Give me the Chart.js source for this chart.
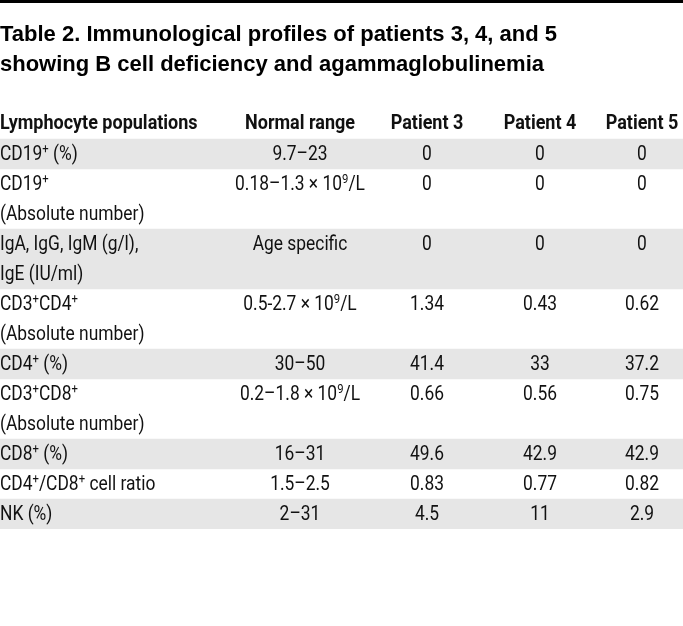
<!DOCTYPE html>
<html>
<head>
<meta charset="utf-8">
<script src="https://cdn.jsdelivr.net/npm/chart.js@4.4.1/dist/chart.umd.min.js"></script>
<style>
  html, body { margin: 0; padding: 0; background: #fff; }
  .wrap { position: relative; width: 683px; height: 626px; }
  .rule { position: absolute; left: 0; top: 0; width: 683px; height: 3px; background: #000; }
  canvas { display: block; }
</style>
</head>
<body>
<div class="wrap">
  <canvas id="table" width="683" height="626"></canvas>
  <div class="rule"></div>
</div>
<script>
// Данные таблицы
const titleLines = [
  'Table 2. Immunological profiles of patients 3, 4, and 5',
  'showing B cell deficiency and agammaglobulinemia'
];
const columnHeaders = ['Lymphocyte populations', 'Normal range', 'Patient 3', 'Patient 4', 'Patient 5'];
// ^ — следующий символ в верхнем индексе
const rowLabels = [
  ['CD19^+ (%)'],
  ['CD19^+', '(Absolute number)'],
  ['IgA, IgG, IgM (g/l),', 'IgE (IU/ml)'],
  ['CD3^+CD4^+', '(Absolute number)'],
  ['CD4^+ (%)'],
  ['CD3^+CD8^+', '(Absolute number)'],
  ['CD8^+ (%)'],
  ['CD4^+/CD8^+ cell ratio'],
  ['NK (%)']
];
const normalRange = ['9.7–23', '0.18–1.3 × 10^9/L', 'Age specific', '0.5-2.7 × 10^9/L', '30–50', '0.2–1.8 × 10^9/L', '16–31', '1.5–2.5', '2–31'];
const patient3 = [0, 0, 0, 1.34, 41.4, 0.66, 49.6, 0.83, 4.5];
const patient4 = [0, 0, 0, 0.43, 33, 0.56, 42.9, 0.77, 11];
const patient5 = [0, 0, 0, 0.62, 37.2, 0.75, 42.9, 0.82, 2.9];

// Раскладка
const TABLE_WIDTH = 683;
const COLUMN_X = [0, 300, 427, 540, 642];
const COLUMN_ALIGN = ['left', 'center', 'center', 'center', 'center'];
const BAND_COLOR = '#e6e6e6';
const TEXT_COLOR = '#111';
// шрифт в таблице узкий — сжимаем Roboto по горизонтали
const BODY = { font: '20px Roboto, sans-serif', sx: 0.87 };
const HEAD = { font: 'bold 20px Roboto, sans-serif', sx: 0.9 };
const SUP_FONT = '13px Roboto, sans-serif';

// Строки таблицы -> слоты категориальной оси (одна строка текста = один слот)
const slots = [{ header: true }];
rowLabels.forEach((lines, r) => {
  lines.forEach((_, l) => slots.push({ row: r, line: l }));
});
const slotNames = slots.map((s, i) => 'slot' + i);
const bandData = slots.map(s => (!s.header && s.row % 2 === 0) ? TABLE_WIDTH : null);

function cellText(row, col, line) {
  if (col === 0) return rowLabels[row][line];
  if (line > 0) return '';
  const cols = [null, normalRange, patient3, patient4, patient5];
  return String(cols[col][row]);
}

// Текст с верхними индексами
function drawRich(ctx, str, x, y, align, style) {
  const parts = [];
  for (let i = 0; i < str.length; i++) {
    if (str[i] === '^' && i + 1 < str.length) {
      parts.push({ t: str[i + 1], sup: true });
      i++;
    } else if (parts.length && !parts[parts.length - 1].sup) {
      parts[parts.length - 1].t += str[i];
    } else {
      parts.push({ t: str[i], sup: false });
    }
  }
  let total = 0;
  parts.forEach(p => {
    ctx.font = p.sup ? SUP_FONT : style.font;
    p.w = ctx.measureText(p.t).width;
    total += p.w;
  });
  const startX = align === 'center' ? x - total * style.sx / 2 : x;
  ctx.save();
  ctx.translate(startX, y);
  ctx.scale(style.sx, 1);
  let cx = 0;
  parts.forEach(p => {
    ctx.font = p.sup ? SUP_FONT : style.font;
    ctx.fillText(p.t, cx, p.sup ? -5 : 0);
    cx += p.w;
  });
  ctx.restore();
}

const cellTextPlugin = {
  id: 'cellText',
  afterDatasetsDraw(chart) {
    const { ctx, scales } = chart;
    ctx.save();
    ctx.fillStyle = TEXT_COLOR;
    ctx.textAlign = 'left';
    ctx.textBaseline = 'middle';
    slots.forEach((s, i) => {
      const y = scales.y.getPixelForValue(i);
      COLUMN_X.forEach((cx, c) => {
        const x = scales.x.getPixelForValue(cx);
        if (s.header) {
          drawRich(ctx, columnHeaders[c], x, y, COLUMN_ALIGN[c], HEAD);
        } else {
          const txt = cellText(s.row, c, s.line);
          if (txt) drawRich(ctx, txt, x, y + 1, COLUMN_ALIGN[c], BODY);
        }
      });
    });
    ctx.restore();
  }
};

new Chart(document.getElementById('table'), {
  type: 'bar',
  data: {
    labels: slotNames,
    datasets: [{
      data: bandData,
      backgroundColor: BAND_COLOR,
      borderWidth: 0,
      barPercentage: 1,
      categoryPercentage: 1
    }]
  },
  options: {
    indexAxis: 'y',
    responsive: false,
    devicePixelRatio: 1,
    animation: false,
    layout: { padding: { top: 0, left: 0, right: 0, bottom: 97 } },
    scales: {
      x: { type: 'linear', min: 0, max: TABLE_WIDTH, display: false },
      y: { type: 'category', display: false, offset: true }
    },
    plugins: {
      legend: { display: false },
      tooltip: { enabled: false },
      title: {
        display: true,
        text: titleLines,
        align: 'start',
        color: '#000',
        font: { family: '"Liberation Sans", Arial, sans-serif', size: 22, weight: 'bold', lineHeight: '30px' },
        padding: { top: 20, bottom: 29 }
      }
    }
  },
  plugins: [cellTextPlugin]
});
</script>
</body>
</html>
